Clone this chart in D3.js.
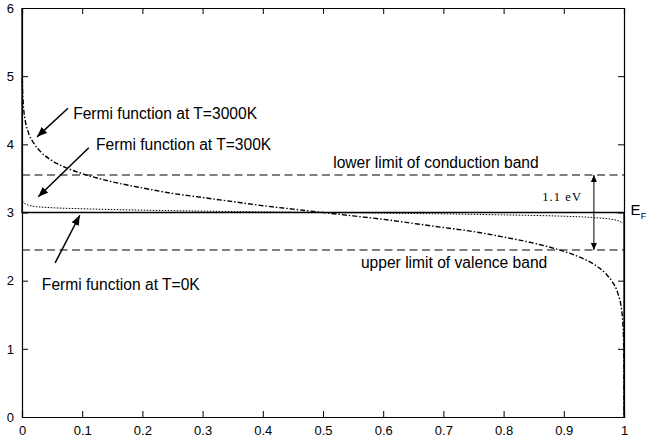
<!DOCTYPE html>
<html>
<head>
<meta charset="utf-8">
<script src="https://cdn.jsdelivr.net/npm/d3@7"></script>
<style>
  body { margin: 0; background: #fff; }
  svg { display: block; font-family: Arial, "Liberation Sans", sans-serif; }
</style>
</head>
<body>
<svg id="chart"></svg>
<script>
// occupancy (x) and energy in eV (y)
const fermi3000F = [0.0005, 0.001, 0.002, 0.005, 0.01, 0.02, 0.03, 0.05, 0.075, 0.1, 0.15, 0.2, 0.25, 0.3, 0.35, 0.4, 0.45, 0.5,
                    0.55, 0.6, 0.65, 0.7, 0.75, 0.8, 0.85, 0.9, 0.925, 0.95, 0.97, 0.98, 0.99, 0.995, 0.998, 0.999, 0.9995, 0.9999, 0.99999];
const fermi3000E = [4.97, 4.79, 4.61, 4.37, 4.19, 4.01, 3.90, 3.76, 3.65, 3.57, 3.45, 3.36, 3.28, 3.22, 3.16, 3.10, 3.05, 3.00,
                    2.95, 2.90, 2.84, 2.78, 2.72, 2.64, 2.55, 2.43, 2.35, 2.24, 2.10, 1.99, 1.81, 1.63, 1.39, 1.21, 1.03, 0.62, 0.02];

const fermi300F = [0.001, 0.002, 0.005, 0.01, 0.02, 0.05, 0.1, 0.2, 0.3, 0.4, 0.5, 0.6, 0.7, 0.8, 0.9, 0.95, 0.98, 0.99, 0.995, 0.998];
const fermi300E = [3.17, 3.15, 3.13, 3.11, 3.09, 3.07, 3.055, 3.035, 3.02, 3.01, 3.00, 2.99, 2.98, 2.965, 2.945, 2.925, 2.90, 2.88, 2.86, 2.84];

const fermi0F = [0, 0, 1, 1];
const fermi0E = [6, 3, 3, 0];

const fermiLevel = 3;
const bandEdges = [3.55, 2.45];

const xTicks = [0, 0.1, 0.2, 0.3, 0.4, 0.5, 0.6, 0.7, 0.8, 0.9, 1];
const yTicks = [0, 1, 2, 3, 4, 5, 6];

const W = 648, H = 444;
const m = { left: 22, right: 624, top: 8, bottom: 417 };
const labelSize = 15.6;

const svg = d3.select("#chart").attr("width", W).attr("height", H);
svg.append("rect").attr("width", W).attr("height", H).attr("fill", "#fff");

const x = d3.scaleLinear().domain([0, 1]).range([m.left, m.right]);
const y = d3.scaleLinear().domain([0, 6]).range([m.bottom, m.top]);

const defs = svg.append("defs");
defs.append("marker").attr("id", "head")
    .attr("markerUnits", "userSpaceOnUse")
    .attr("viewBox", "0 0 10 8").attr("refX", 10).attr("refY", 4)
    .attr("markerWidth", 10).attr("markerHeight", 8)
    .attr("orient", "auto")
  .append("path").attr("d", "M0,0L10,4L0,8Z").attr("fill", "#000");
defs.append("marker").attr("id", "small")
    .attr("markerUnits", "userSpaceOnUse")
    .attr("viewBox", "0 0 7 6").attr("refX", 7).attr("refY", 3)
    .attr("markerWidth", 7).attr("markerHeight", 6)
    .attr("orient", "auto-start-reverse")
  .append("path").attr("d", "M0,0L7,3L0,6Z").attr("fill", "#000");

// band edges
svg.selectAll("line.band").data(bandEdges).enter().append("line")
    .attr("x1", x(0)).attr("x2", x(1))
    .attr("y1", d => y(d)).attr("y2", d => y(d))
    .attr("stroke", "#000").attr("stroke-width", 1)
    .attr("stroke-dasharray", "8,4.5");

const line = d3.line().x(d => x(d[0])).y(d => y(d[1]));

svg.append("path")
    .datum(fermi0F.map((f, i) => [f, fermi0E[i]]))
    .attr("d", line).attr("fill", "none")
    .attr("stroke", "#000").attr("stroke-width", 1.3);

svg.append("path")
    .datum(fermi300F.map((f, i) => [f, fermi300E[i]]))
    .attr("d", line.curve(d3.curveMonotoneX)).attr("fill", "none")
    .attr("stroke", "#000").attr("stroke-width", 1)
    .attr("stroke-dasharray", "1.5,1.5");

svg.append("path")
    .datum(fermi3000F.map((f, i) => [f, fermi3000E[i]]))
    .attr("d", line.curve(d3.curveMonotoneX)).attr("fill", "none")
    .attr("stroke", "#000").attr("stroke-width", 1.4)
    .attr("stroke-dasharray", "5,2,1.5,2");

// axes, ticks inward on all sides
svg.append("g").attr("transform", `translate(0,${m.bottom})`)
    .call(d3.axisBottom(x).tickValues(xTicks).tickSize(-6).tickPadding(9).tickFormat(d3.format("")));
svg.append("g").attr("transform", `translate(${m.left},0)`)
    .call(d3.axisLeft(y).tickValues(yTicks).tickSize(-6).tickPadding(8).tickFormat(d3.format("d")));
svg.append("g").attr("transform", `translate(0,${m.top})`)
    .call(d3.axisTop(x).tickValues(xTicks).tickSize(-6).tickFormat(""));
svg.append("g").attr("transform", `translate(${m.right},0)`)
    .call(d3.axisRight(y).tickValues(yTicks).tickSize(-6).tickFormat(""));
svg.selectAll(".domain").attr("stroke", "#000").attr("stroke-width", 1.2);
svg.selectAll(".tick line").attr("stroke", "#000");
svg.selectAll(".tick text").attr("font-size", 13).attr("font-family", "Arial, 'Liberation Sans', sans-serif").attr("fill", "#000");

// annotations
const notes = [
  { text: "Fermi function at T=3000K", tx: 0.085, ty: 4.37, from: [0.0764, 4.53], to: [0.025, 4.11] },
  { text: "Fermi function at T=300K",  tx: 0.123, ty: 3.92, from: [0.111, 3.95],  to: [0.027, 3.23] },
  { text: "Fermi function at T=0K",    tx: 0.033, ty: 1.86, from: [0.055, 2.26],  to: [0.096, 2.96] }
];
svg.selectAll("line.note").data(notes).enter().append("line")
    .attr("x1", d => x(d.from[0])).attr("y1", d => y(d.from[1]))
    .attr("x2", d => x(d.to[0])).attr("y2", d => y(d.to[1]))
    .attr("stroke", "#000").attr("stroke-width", 1.5)
    .attr("marker-end", "url(#head)");
svg.selectAll("text.note").data(notes).enter().append("text")
    .attr("x", d => x(d.tx)).attr("y", d => y(d.ty))
    .attr("font-size", labelSize).text(d => d.text);

svg.append("text").attr("x", x(0.517)).attr("y", y(3.66))
    .attr("font-size", labelSize).text("lower limit of conduction band");
svg.append("text").attr("x", x(0.563)).attr("y", y(2.185))
    .attr("font-size", labelSize).text("upper limit of valence band");

// 1.1 eV gap
svg.append("line")
    .attr("x1", x(0.95)).attr("x2", x(0.95))
    .attr("y1", y(bandEdges[0])).attr("y2", y(bandEdges[1]))
    .attr("stroke", "#000").attr("stroke-width", 1)
    .attr("marker-start", "url(#small)").attr("marker-end", "url(#small)");
svg.append("text").attr("x", x(0.864)).attr("y", y(3.17))
    .attr("font-family", "'Times New Roman', 'Liberation Serif', serif")
    .attr("font-size", 12.5).attr("letter-spacing", 1.1).text("1.1 eV");

// E_F label just right of the frame
const ef = svg.append("text").attr("x", x(1.011)).attr("y", y(fermiLevel - 0.03))
    .attr("font-size", 15);
ef.append("tspan").text("E");
ef.append("tspan").attr("font-size", 9).attr("dy", 4).text("F");
</script>
</body>
</html>
